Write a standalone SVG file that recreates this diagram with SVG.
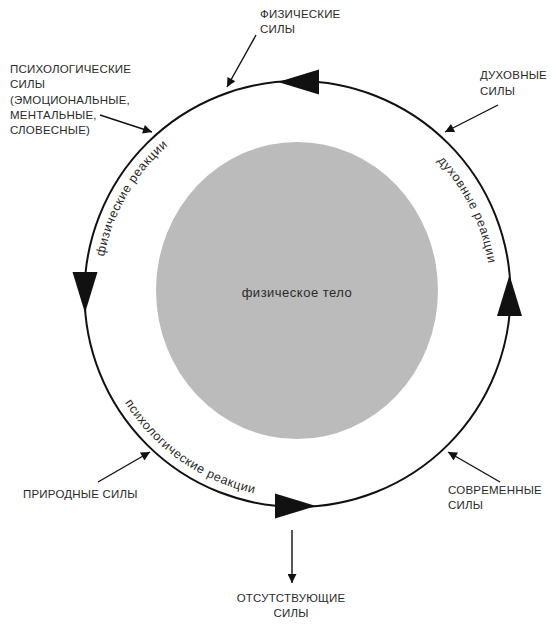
<svg xmlns="http://www.w3.org/2000/svg" xmlns:xlink="http://www.w3.org/1999/xlink" width="555" height="624" viewBox="0 0 555 624">
  <style>
    .lbl { font-family: "Liberation Sans", Arial, sans-serif; font-size: 11.5px; fill: #2a2a2a; letter-spacing: 0.2px; }
    .arc { font-family: "Liberation Sans", Arial, sans-serif; font-size: 12.5px; fill: #2a2a2a; letter-spacing: 0.6px; }
    .ring { fill: none; stroke: #111; stroke-width: 2; }
    .ptr { fill: none; stroke: #111; stroke-width: 1.4; marker-end: url(#ah); }
    .tri { fill: #111; }
  </style>
  <defs>
    <marker id="ah" viewBox="0 0 10 10" refX="10" refY="5" markerWidth="11" markerHeight="9" markerUnits="userSpaceOnUse" orient="auto">
      <path d="M0,0 L10,5 L0,10 z" fill="#111"/>
    </marker>
    <path id="tri" d="M0,0 L-41,-12.5 L-41,12.5 z"/>
    <path id="pFiz" d="M103.5,328.2 A197,197 0 0 1 230.1,108.9"/>
    <path id="pDuh" d="M375.1,117.2 A193,193 0 0 1 485.0,339.7"/>
    <path id="pPsy" d="M100.5,346.8 A204,204 0 0 0 315.3,497.2"/>
  </defs>

  <g id="body">
    <ellipse cx="297" cy="290.5" rx="141" ry="148.5" fill="#bbbbbb"/>
    <text class="lbl" x="297" y="297" text-anchor="middle" style="font-size:13px; letter-spacing:0.5px">физическое тело</text>
  </g>

  <g id="cycle">
    <circle class="ring" cx="297.5" cy="294" r="213"/>
    <use href="#tri" class="tri" transform="translate(278,82) rotate(180)"/>
    <use href="#tri" class="tri" transform="translate(85,313) rotate(90)"/>
    <use href="#tri" class="tri" transform="translate(509.5,275) rotate(-90)"/>
    <use href="#tri" class="tri" transform="translate(316,506)"/>
    <text class="arc"><textPath href="#pFiz" startOffset="50%" text-anchor="middle">физические реакции</textPath></text>
    <text class="arc"><textPath href="#pDuh" startOffset="50%" text-anchor="middle">духовные реакции</textPath></text>
    <text class="arc"><textPath href="#pPsy" startOffset="50%" text-anchor="middle">психологические реакции</textPath></text>
  </g>

  <g id="fizicheskie-sily">
    <text class="lbl" x="260" y="18">ФИЗИЧЕСКИЕ</text>
    <text class="lbl" x="260" y="33">СИЛЫ</text>
  </g>
  <g id="psihologicheskie-sily">
    <text class="lbl" x="10" y="73">ПСИХОЛОГИЧЕСКИЕ</text>
    <text class="lbl" x="10" y="88">СИЛЫ</text>
    <text class="lbl" x="10" y="104">(ЭМОЦИОНАЛЬНЫЕ,</text>
    <text class="lbl" x="10" y="119">МЕНТАЛЬНЫЕ,</text>
    <text class="lbl" x="10" y="134">СЛОВЕСНЫЕ)</text>
  </g>
  <g id="duhovnye-sily">
    <text class="lbl" x="480" y="79">ДУХОВНЫЕ</text>
    <text class="lbl" x="480" y="95">СИЛЫ</text>
  </g>
  <g id="prirodnye-sily">
    <text class="lbl" x="23" y="498">ПРИРОДНЫЕ СИЛЫ</text>
  </g>
  <g id="sovremennye-sily">
    <text class="lbl" x="448" y="494">СОВРЕМЕННЫЕ</text>
    <text class="lbl" x="448" y="509">СИЛЫ</text>
  </g>
  <g id="otsutstvuyushchie-sily">
    <text class="lbl" x="291" y="602" text-anchor="middle">ОТСУТСТВУЮЩИЕ</text>
    <text class="lbl" x="291" y="617" text-anchor="middle">СИЛЫ</text>
  </g>

  <g id="connectors">
    <line class="ptr" x1="256" y1="35" x2="227" y2="87"/>
    <line class="ptr" x1="100" y1="115" x2="152" y2="132"/>
    <line class="ptr" x1="498" y1="105" x2="445" y2="132"/>
    <line class="ptr" x1="98" y1="482" x2="150" y2="452"/>
    <line class="ptr" x1="500" y1="482" x2="448" y2="452"/>
    <line class="ptr" x1="292" y1="530" x2="292" y2="583"/>
  </g>
</svg>
